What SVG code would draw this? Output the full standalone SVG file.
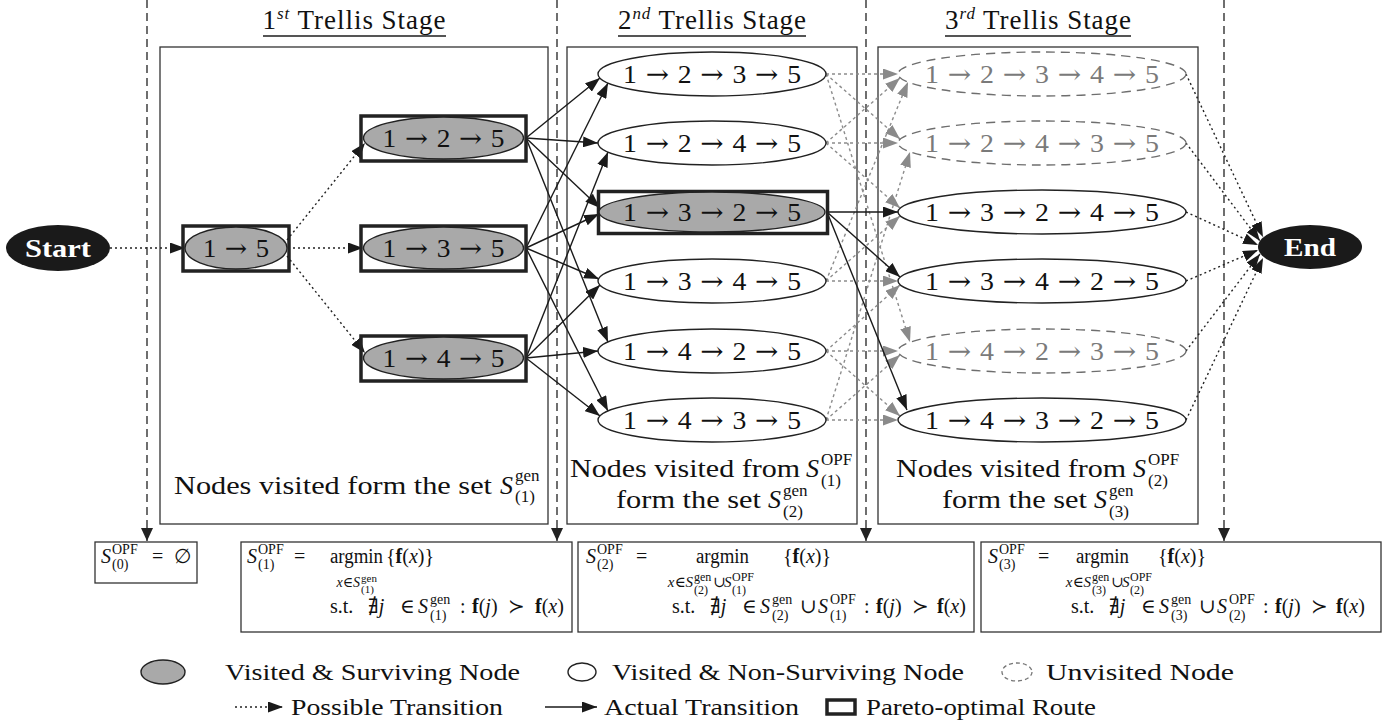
<svg xmlns="http://www.w3.org/2000/svg" width="1390" height="725" viewBox="0 0 1390 725">
<style>
text{font-family:"Liberation Serif","DejaVu Serif","DejaVu Sans",serif;fill:#111}
.ar{font-family:"DejaVu Serif",serif}
.it{font-style:italic}
.b{font-weight:bold}
.n{font-size:26px}
.ng{fill:#7a7a7a}
.w{fill:#fff;font-weight:bold;font-size:26px}
.f20{font-size:20px}
.f15{font-size:15px}
.f14{font-size:14px}
.f12{font-size:12px}
.f11{font-size:11px}
.f24{font-size:24px}
.box{fill:none;stroke:#333;stroke-width:1.3}
.el{fill:#fff;stroke:#222;stroke-width:1.4}
.sv{fill:#a9a9a9;stroke:#222;stroke-width:1.4}
.uv{fill:#fff;stroke:#6e6e6e;stroke-width:1.4;stroke-dasharray:9 6}
.po{fill:none;stroke:#222;stroke-width:3.5}
.blk{fill:#1a1a1a}
.pd{stroke:#222;stroke-width:1.4;stroke-dasharray:2 3;fill:none}
.pg{stroke:#8c8c8c;stroke-width:1.4;stroke-dasharray:3 3;fill:none}
.ac{stroke:#1a1a1a;stroke-width:1.4;fill:none}
.dv{stroke:#222;stroke-width:1.3;stroke-dasharray:8 5;fill:none}
.ul{stroke:#555;stroke-width:2}
</style>
<defs>
<marker id="ab" markerWidth="15" markerHeight="11" refX="15" refY="5.5" orient="auto" markerUnits="userSpaceOnUse"><path d="M0,0 L15,5.5 L0,11 z" fill="#1a1a1a"/></marker>
<marker id="ag" markerWidth="15" markerHeight="11" refX="15" refY="5.5" orient="auto" markerUnits="userSpaceOnUse"><path d="M0,0 L15,5.5 L0,11 z" fill="#8a8a8a"/></marker>
<marker id="ad" markerWidth="13" markerHeight="12" refX="13" refY="6" orient="auto" markerUnits="userSpaceOnUse"><path d="M0,0 L13,6 L0,12 z" fill="#222"/></marker>
</defs>

<g id="titles">
<text x="354" y="29" text-anchor="middle" font-size="27" textLength="183">1<tspan class="it" font-size="17" dy="-10">st</tspan><tspan dy="10"> Trellis Stage</tspan></text>
<line class="ul" x1="263" y1="36" x2="446" y2="36"/>
<text x="712" y="29" text-anchor="middle" font-size="27" textLength="188">2<tspan class="it" font-size="17" dy="-10">nd</tspan><tspan dy="10"> Trellis Stage</tspan></text>
<line class="ul" x1="618" y1="36" x2="806" y2="36"/>
<text x="1038" y="29" text-anchor="middle" font-size="27" textLength="186">3<tspan class="it" font-size="17" dy="-10">rd</tspan><tspan dy="10"> Trellis Stage</tspan></text>
<line class="ul" x1="945" y1="36" x2="1131" y2="36"/>
</g>

<g id="stage1">
<rect class="box" x="160" y="47" width="388" height="477"/>
<text x="174" y="494" class="n" textLength="318" lengthAdjust="spacingAndGlyphs">Nodes visited form the set</text>
<text x="500" y="494" class="n it">S</text>
<text x="515" y="481" font-size="17">gen</text>
<text x="515" y="502" font-size="17">(1)</text>
</g>
<g id="stage2">
<rect class="box" x="567" y="47" width="290" height="477"/>
<text x="570" y="477" class="n" textLength="230" lengthAdjust="spacingAndGlyphs">Nodes visited from</text>
<text x="806" y="477" class="n it">S</text>
<text x="821" y="465" font-size="17">OPF</text>
<text x="821" y="486" font-size="17">(1)</text>
<text x="616" y="508" class="n" textLength="145" lengthAdjust="spacingAndGlyphs">form the set</text>
<text x="768" y="508" class="n it">S</text>
<text x="783" y="496" font-size="17">gen</text>
<text x="783" y="517" font-size="17">(2)</text>
</g>
<g id="stage3">
<rect class="box" x="878" y="47" width="320" height="477"/>
<text x="896" y="477" class="n" textLength="230" lengthAdjust="spacingAndGlyphs">Nodes visited from</text>
<text x="1133" y="477" class="n it">S</text>
<text x="1148" y="465" font-size="17">OPF</text>
<text x="1148" y="486" font-size="17">(2)</text>
<text x="942" y="508" class="n" textLength="145" lengthAdjust="spacingAndGlyphs">form the set</text>
<text x="1094" y="508" class="n it">S</text>
<text x="1109" y="496" font-size="17">gen</text>
<text x="1109" y="517" font-size="17">(3)</text>
</g>

<g id="connectors">
<line class="dv" x1="147" y1="0" x2="147" y2="541" marker-end="url(#ad)"/>
<line class="dv" x1="557" y1="0" x2="557" y2="541" marker-end="url(#ad)"/>
<line class="dv" x1="866" y1="0" x2="866" y2="541" marker-end="url(#ad)"/>
<line class="dv" x1="1224" y1="0" x2="1224" y2="541" marker-end="url(#ad)"/>

<line class="pd" x1="110" y1="248" x2="185" y2="248" marker-end="url(#ab)"/>
<line class="pd" x1="287" y1="240" x2="365" y2="143" marker-end="url(#ab)"/>
<line class="pd" x1="288" y1="248" x2="363" y2="248" marker-end="url(#ab)"/>
<line class="pd" x1="287" y1="256" x2="365" y2="353" marker-end="url(#ab)"/>

<line class="ac" x1="526" y1="138" x2="600" y2="78" marker-end="url(#ab)"/>
<line class="ac" x1="526" y1="138" x2="598" y2="143" marker-end="url(#ab)"/>
<line class="ac" x1="526" y1="138" x2="600" y2="208" marker-end="url(#ab)"/>
<line class="ac" x1="526" y1="138" x2="608" y2="342" marker-end="url(#ab)"/>
<line class="ac" x1="526" y1="248" x2="608" y2="83" marker-end="url(#ab)"/>
<line class="ac" x1="526" y1="248" x2="599" y2="214" marker-end="url(#ab)"/>
<line class="ac" x1="526" y1="248" x2="599" y2="279" marker-end="url(#ab)"/>
<line class="ac" x1="526" y1="248" x2="608" y2="411" marker-end="url(#ab)"/>
<line class="ac" x1="526" y1="358" x2="608" y2="152" marker-end="url(#ab)"/>
<line class="ac" x1="526" y1="358" x2="600" y2="285" marker-end="url(#ab)"/>
<line class="ac" x1="526" y1="358" x2="598" y2="351" marker-end="url(#ab)"/>
<line class="ac" x1="526" y1="358" x2="600" y2="416" marker-end="url(#ab)"/>

<line class="pg" x1="826" y1="74" x2="898" y2="74" marker-end="url(#ag)"/>
<line class="pg" x1="826" y1="74" x2="900" y2="139" marker-end="url(#ag)"/>
<line class="pg" x1="826" y1="74" x2="910" y2="342" marker-end="url(#ag)"/>
<line class="pg" x1="826" y1="143" x2="900" y2="78" marker-end="url(#ag)"/>
<line class="pg" x1="826" y1="143" x2="898" y2="143" marker-end="url(#ag)"/>
<line class="pg" x1="826" y1="143" x2="900" y2="208" marker-end="url(#ag)"/>
<line class="pg" x1="826" y1="281" x2="908" y2="82" marker-end="url(#ag)"/>
<line class="pg" x1="826" y1="281" x2="900" y2="216" marker-end="url(#ag)"/>
<line class="pg" x1="826" y1="281" x2="898" y2="281" marker-end="url(#ag)"/>
<line class="pg" x1="826" y1="351" x2="900" y2="285" marker-end="url(#ag)"/>
<line class="pg" x1="826" y1="351" x2="898" y2="351" marker-end="url(#ag)"/>
<line class="pg" x1="826" y1="351" x2="900" y2="416" marker-end="url(#ag)"/>
<line class="pg" x1="826" y1="420" x2="910" y2="152" marker-end="url(#ag)"/>
<line class="pg" x1="826" y1="420" x2="900" y2="355" marker-end="url(#ag)"/>
<line class="pg" x1="826" y1="420" x2="898" y2="420" marker-end="url(#ag)"/>
<line class="ac" x1="827" y1="212" x2="898" y2="212" marker-end="url(#ab)"/>
<line class="ac" x1="827" y1="212" x2="900" y2="277" marker-end="url(#ab)"/>
<line class="ac" x1="827" y1="212" x2="907" y2="410" marker-end="url(#ab)"/>

<line class="pd" x1="1186" y1="74" x2="1263" y2="237" marker-end="url(#ab)"/>
<line class="pd" x1="1186" y1="143" x2="1260" y2="241" marker-end="url(#ab)"/>
<line class="pd" x1="1186" y1="212" x2="1258" y2="245" marker-end="url(#ab)"/>
<line class="pd" x1="1186" y1="281" x2="1258" y2="250" marker-end="url(#ab)"/>
<line class="pd" x1="1186" y1="351" x2="1260" y2="254" marker-end="url(#ab)"/>
<line class="pd" x1="1186" y1="420" x2="1263" y2="258" marker-end="url(#ab)"/>
</g>

<g id="start"><ellipse class="blk" cx="58" cy="248" rx="52" ry="23"/><text x="58" y="257" text-anchor="middle" class="w" textLength="66" lengthAdjust="spacingAndGlyphs">Start</text></g>
<g id="end"><ellipse class="blk" cx="1310" cy="247" rx="52" ry="22"/><text x="1310" y="256" text-anchor="middle" class="w" textLength="52" lengthAdjust="spacingAndGlyphs">End</text></g>

<g id="n15"><rect class="po" x="183" y="226" width="106" height="45"/><ellipse class="sv" cx="236" cy="248" rx="51" ry="21"/><text x="236" y="257" text-anchor="middle" class="n" textLength="66" lengthAdjust="spacingAndGlyphs">1<tspan class="ar"> → </tspan>5</text></g>
<g id="n125"><rect class="po" x="361" y="116" width="165" height="45"/><ellipse class="sv" cx="443.5" cy="138" rx="80" ry="21"/><text x="443.5" y="147" text-anchor="middle" class="n" textLength="122" lengthAdjust="spacingAndGlyphs">1<tspan class="ar"> → </tspan>2<tspan class="ar"> → </tspan>5</text></g>
<g id="n135"><rect class="po" x="361" y="226" width="165" height="45"/><ellipse class="sv" cx="443.5" cy="248" rx="80" ry="21"/><text x="443.5" y="257" text-anchor="middle" class="n" textLength="122" lengthAdjust="spacingAndGlyphs">1<tspan class="ar"> → </tspan>3<tspan class="ar"> → </tspan>5</text></g>
<g id="n145"><rect class="po" x="361" y="336" width="165" height="45"/><ellipse class="sv" cx="443.5" cy="358" rx="80" ry="21"/><text x="443.5" y="367" text-anchor="middle" class="n" textLength="122" lengthAdjust="spacingAndGlyphs">1<tspan class="ar"> → </tspan>4<tspan class="ar"> → </tspan>5</text></g>

<g id="n1235"><ellipse class="el" cx="712" cy="74" rx="114" ry="22"/><text x="712" y="83" text-anchor="middle" class="n" textLength="178" lengthAdjust="spacingAndGlyphs">1<tspan class="ar"> → </tspan>2<tspan class="ar"> → </tspan>3<tspan class="ar"> → </tspan>5</text></g>
<g id="n1245"><ellipse class="el" cx="712" cy="143" rx="114" ry="22"/><text x="712" y="152" text-anchor="middle" class="n" textLength="178" lengthAdjust="spacingAndGlyphs">1<tspan class="ar"> → </tspan>2<tspan class="ar"> → </tspan>4<tspan class="ar"> → </tspan>5</text></g>
<g id="n1325"><rect class="po" x="598.5" y="191.5" width="229" height="42"/><ellipse class="sv" cx="712" cy="212" rx="113" ry="20"/><text x="712" y="221" text-anchor="middle" class="n" textLength="178" lengthAdjust="spacingAndGlyphs">1<tspan class="ar"> → </tspan>3<tspan class="ar"> → </tspan>2<tspan class="ar"> → </tspan>5</text></g>
<g id="n1345"><ellipse class="el" cx="712" cy="281" rx="114" ry="22"/><text x="712" y="290" text-anchor="middle" class="n" textLength="178" lengthAdjust="spacingAndGlyphs">1<tspan class="ar"> → </tspan>3<tspan class="ar"> → </tspan>4<tspan class="ar"> → </tspan>5</text></g>
<g id="n1425"><ellipse class="el" cx="712" cy="351" rx="114" ry="22"/><text x="712" y="360" text-anchor="middle" class="n" textLength="178" lengthAdjust="spacingAndGlyphs">1<tspan class="ar"> → </tspan>4<tspan class="ar"> → </tspan>2<tspan class="ar"> → </tspan>5</text></g>
<g id="n1435"><ellipse class="el" cx="712" cy="420" rx="114" ry="22"/><text x="712" y="429" text-anchor="middle" class="n" textLength="178" lengthAdjust="spacingAndGlyphs">1<tspan class="ar"> → </tspan>4<tspan class="ar"> → </tspan>3<tspan class="ar"> → </tspan>5</text></g>

<g id="n12345"><ellipse class="uv" cx="1042" cy="74" rx="144" ry="22"/><text x="1042" y="83" text-anchor="middle" class="n ng" textLength="234" lengthAdjust="spacingAndGlyphs">1<tspan class="ar"> → </tspan>2<tspan class="ar"> → </tspan>3<tspan class="ar"> → </tspan>4<tspan class="ar"> → </tspan>5</text></g>
<g id="n12435"><ellipse class="uv" cx="1042" cy="143" rx="144" ry="22"/><text x="1042" y="152" text-anchor="middle" class="n ng" textLength="234" lengthAdjust="spacingAndGlyphs">1<tspan class="ar"> → </tspan>2<tspan class="ar"> → </tspan>4<tspan class="ar"> → </tspan>3<tspan class="ar"> → </tspan>5</text></g>
<g id="n13245"><ellipse class="el" cx="1042" cy="212" rx="144" ry="22"/><text x="1042" y="221" text-anchor="middle" class="n" textLength="234" lengthAdjust="spacingAndGlyphs">1<tspan class="ar"> → </tspan>3<tspan class="ar"> → </tspan>2<tspan class="ar"> → </tspan>4<tspan class="ar"> → </tspan>5</text></g>
<g id="n13425"><ellipse class="el" cx="1042" cy="281" rx="144" ry="22"/><text x="1042" y="290" text-anchor="middle" class="n" textLength="234" lengthAdjust="spacingAndGlyphs">1<tspan class="ar"> → </tspan>3<tspan class="ar"> → </tspan>4<tspan class="ar"> → </tspan>2<tspan class="ar"> → </tspan>5</text></g>
<g id="n14235"><ellipse class="uv" cx="1042" cy="351" rx="144" ry="22"/><text x="1042" y="360" text-anchor="middle" class="n ng" textLength="234" lengthAdjust="spacingAndGlyphs">1<tspan class="ar"> → </tspan>4<tspan class="ar"> → </tspan>2<tspan class="ar"> → </tspan>3<tspan class="ar"> → </tspan>5</text></g>
<g id="n14325"><ellipse class="el" cx="1042" cy="420" rx="144" ry="22"/><text x="1042" y="429" text-anchor="middle" class="n" textLength="234" lengthAdjust="spacingAndGlyphs">1<tspan class="ar"> → </tspan>4<tspan class="ar"> → </tspan>3<tspan class="ar"> → </tspan>2<tspan class="ar"> → </tspan>5</text></g>

<g id="opf0">
<rect class="box" x="95" y="542" width="102" height="41"/>
<text x="101" y="563" class="f20 it">S</text>
<text x="112" y="554" class="f14">OPF</text>
<text x="112" y="569" class="f14">(0)</text>
<text x="152" y="563" class="f20">=</text>
<text x="174" y="563" class="f20">∅</text>
</g>
<g id="opf1">
<rect class="box" x="241" y="542" width="331" height="90"/>
<text x="247" y="563" class="f20 it">S</text>
<text x="258" y="554" class="f14">OPF</text>
<text x="258" y="569" class="f14">(1)</text>
<text x="294" y="563" class="f20">=</text>
<text x="330" y="563" class="f20" textLength="53" lengthAdjust="spacingAndGlyphs">argmin</text>
<text x="386" y="563" class="f20">{<tspan class="b">f</tspan>(<tspan class="it">x</tspan>)}</text>
<text x="360" y="587" class="f14" text-anchor="end"><tspan class="it">x</tspan>∈<tspan class="it">S</tspan></text>
<text x="361" y="582" class="f11">gen</text>
<text x="361" y="593" class="f11">(1)</text>
<text x="330" y="613" class="f20">s.t.</text>
<text x="368" y="613" class="f20">∄<tspan class="it">j</tspan></text>
<text x="400" y="613" class="f20">∈</text>
<text x="418" y="613" class="f20 it">S</text>
<text x="430" y="604" class="f14">gen</text>
<text x="430" y="620" class="f14">(1)</text>
<text x="460" y="613" class="f20">:</text>
<text x="472" y="613" class="f20"><tspan class="b">f</tspan>(<tspan class="it">j</tspan>)</text>
<text x="508" y="613" class="f20">≻</text>
<text x="535" y="613" class="f20"><tspan class="b">f</tspan>(<tspan class="it">x</tspan>)</text>
</g>
<g id="opf2">
<rect class="box" x="578" y="542" width="396" height="90"/>
<text x="586" y="563" class="f20 it">S</text>
<text x="597" y="554" class="f14">OPF</text>
<text x="597" y="569" class="f14">(2)</text>
<text x="636" y="563" class="f20">=</text>
<text x="696" y="563" class="f20" textLength="53" lengthAdjust="spacingAndGlyphs">argmin</text>
<text x="783" y="563" class="f20">{<tspan class="b">f</tspan>(<tspan class="it">x</tspan>)}</text>
<text x="693" y="587" class="f15" text-anchor="end"><tspan class="it">x</tspan>∈<tspan class="it">S</tspan></text>
<text x="694" y="581" class="f12">gen</text>
<text x="694" y="594" class="f12">(2)</text>
<text x="713" y="587" class="f15">∪</text>
<text x="724" y="587" class="f15 it">S</text>
<text x="732" y="581" class="f12">OPF</text>
<text x="732" y="594" class="f12">(1)</text>
<text x="672" y="613" class="f20">s.t.</text>
<text x="710" y="613" class="f20">∄<tspan class="it">j</tspan></text>
<text x="742" y="613" class="f20">∈</text>
<text x="760" y="613" class="f20 it">S</text>
<text x="772" y="604" class="f14">gen</text>
<text x="772" y="620" class="f14">(2)</text>
<text x="800" y="613" class="f20">∪</text>
<text x="818" y="613" class="f20 it">S</text>
<text x="830" y="604" class="f14">OPF</text>
<text x="830" y="620" class="f14">(1)</text>
<text x="864" y="613" class="f20">:</text>
<text x="876" y="613" class="f20"><tspan class="b">f</tspan>(<tspan class="it">j</tspan>)</text>
<text x="912" y="613" class="f20">≻</text>
<text x="937" y="613" class="f20"><tspan class="b">f</tspan>(<tspan class="it">x</tspan>)</text>
</g>
<g id="opf3">
<rect class="box" x="981" y="542" width="400" height="90"/>
<text x="988" y="563" class="f20 it">S</text>
<text x="999" y="554" class="f14">OPF</text>
<text x="999" y="569" class="f14">(3)</text>
<text x="1038" y="563" class="f20">=</text>
<text x="1076" y="563" class="f20" textLength="53" lengthAdjust="spacingAndGlyphs">argmin</text>
<text x="1158" y="563" class="f20">{<tspan class="b">f</tspan>(<tspan class="it">x</tspan>)}</text>
<text x="1091" y="587" class="f15" text-anchor="end"><tspan class="it">x</tspan>∈<tspan class="it">S</tspan></text>
<text x="1092" y="581" class="f12">gen</text>
<text x="1092" y="594" class="f12">(3)</text>
<text x="1111" y="587" class="f15">∪</text>
<text x="1122" y="587" class="f15 it">S</text>
<text x="1130" y="581" class="f12">OPF</text>
<text x="1130" y="594" class="f12">(2)</text>
<text x="1071" y="613" class="f20">s.t.</text>
<text x="1109" y="613" class="f20">∄<tspan class="it">j</tspan></text>
<text x="1141" y="613" class="f20">∈</text>
<text x="1159" y="613" class="f20 it">S</text>
<text x="1171" y="604" class="f14">gen</text>
<text x="1171" y="620" class="f14">(3)</text>
<text x="1199" y="613" class="f20">∪</text>
<text x="1217" y="613" class="f20 it">S</text>
<text x="1229" y="604" class="f14">OPF</text>
<text x="1229" y="620" class="f14">(2)</text>
<text x="1263" y="613" class="f20">:</text>
<text x="1275" y="613" class="f20"><tspan class="b">f</tspan>(<tspan class="it">j</tspan>)</text>
<text x="1311" y="613" class="f20">≻</text>
<text x="1336" y="613" class="f20"><tspan class="b">f</tspan>(<tspan class="it">x</tspan>)</text>
</g>

<g id="legend">
<ellipse class="sv" cx="163" cy="672" rx="22" ry="12"/>
<text x="225" y="680" class="f24" textLength="295" lengthAdjust="spacingAndGlyphs">Visited &amp; Surviving Node</text>
<ellipse class="el" cx="582" cy="672" rx="14" ry="9"/>
<text x="612" y="680" class="f24" textLength="352" lengthAdjust="spacingAndGlyphs">Visited &amp; Non-Surviving Node</text>
<ellipse cx="1017" cy="672" rx="15" ry="9" fill="none" stroke="#777" stroke-width="1.3" stroke-dasharray="4 3"/>
<text x="1046" y="680" class="f24" textLength="188" lengthAdjust="spacingAndGlyphs">Unvisited Node</text>
<line class="pd" x1="235" y1="707" x2="283" y2="707" marker-end="url(#ab)"/>
<text x="291" y="715" class="f24" textLength="212" lengthAdjust="spacingAndGlyphs">Possible Transition</text>
<line class="ac" x1="545" y1="707" x2="597" y2="707" marker-end="url(#ab)"/>
<text x="604" y="715" class="f24" textLength="195" lengthAdjust="spacingAndGlyphs">Actual Transition</text>
<rect class="po" x="827" y="700" width="28" height="14"/>
<text x="866" y="715" class="f24" textLength="230" lengthAdjust="spacingAndGlyphs">Pareto-optimal Route</text>
</g>
</svg>
